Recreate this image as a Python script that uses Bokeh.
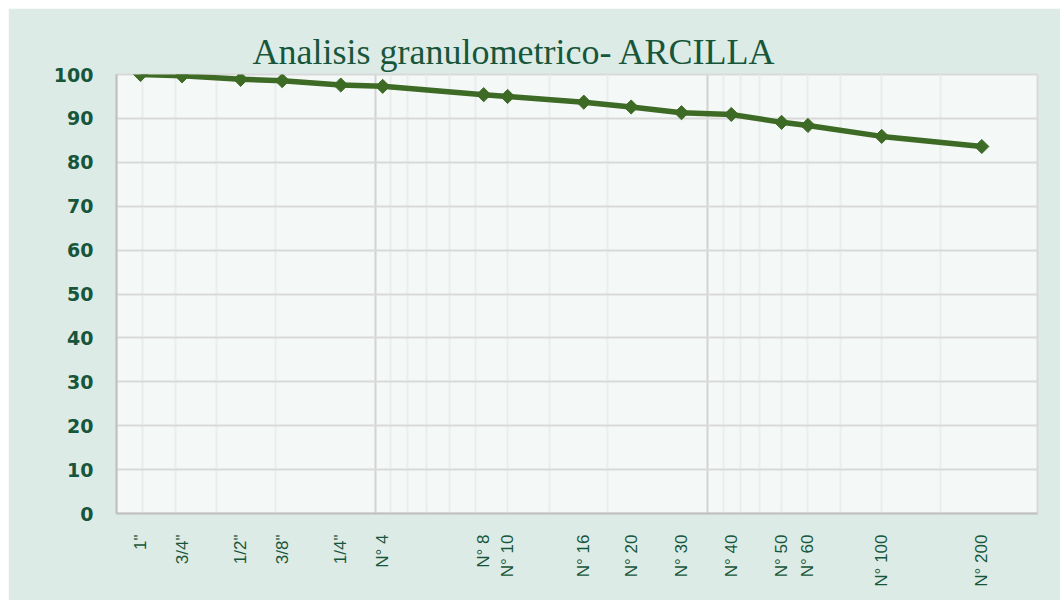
from bokeh.plotting import figure
from bokeh.models import Range1d, FixedTicker, ColumnDataSource
from bokeh.embed import file_html
from bokeh.resources import INLINE
import math

# Data
sieve_labels = ['1"', '3/4"', '1/2"', '3/8"', '1/4"', "N° 4", "N° 8", "N° 10",
                "N° 16", "N° 20", "N° 30", "N° 40", "N° 50", "N° 60", "N° 100", "N° 200"]
sieve_mm = [25.4, 19.05, 12.7, 9.525, 6.35, 4.75, 2.36, 2.0,
            1.18, 0.85, 0.6, 0.425, 0.3, 0.25, 0.15, 0.075]
passing = [100.0, 99.7, 98.9, 98.6, 97.6, 97.3, 95.4, 95.0,
           93.7, 92.6, 91.3, 90.9, 89.1, 88.4, 85.9, 83.6]
y_ticks = [0, 10, 20, 30, 40, 50, 60, 70, 80, 90, 100]

GREEN = "#3d6a24"
TEXT = "#17563a"
OUTER = "#ddebe6"
INNER = "#f4f8f7"

p = figure(width=1052, height=592, output_backend="svg", toolbar_location=None,
           x_axis_type="log", x_range=Range1d(30, 0.051), y_range=Range1d(0, 100),
           min_border_left=108, min_border_right=23, min_border_top=66, min_border_bottom=87,
           title="Analisis granulometrico- ARCILLA")
p.margin = (8, 0, 0, 8)
p.background_fill_color = INNER
p.border_fill_color = OUTER
p.outline_line_color = "#d9d9d9"
p.outline_line_width = 2

p.title.align = "left"
p.title.offset = 136
p.title.text_font = "Liberation Serif"
p.title.text_font_size = "36px"
p.title.text_font_style = "normal"
p.title.text_color = TEXT
p.title.standoff = 5

src = ColumnDataSource(dict(x=sieve_mm, y=passing))
p.line("x", "y", source=src, line_color=GREEN, line_width=5.5)
p.scatter("x", "y", source=src, marker="square", size=10, angle=math.pi / 4,
          fill_color=GREEN, line_color=GREEN)

# x axis
p.xaxis.ticker = FixedTicker(ticks=sieve_mm)
p.xaxis.major_label_overrides = {v: l for v, l in zip(sieve_mm, sieve_labels)}
p.xaxis.major_label_orientation = math.pi / 2
p.xaxis.major_label_text_font = "Liberation Sans"
p.xaxis.major_label_text_font_size = "17px"
p.xaxis.major_label_text_color = TEXT
p.xaxis.major_label_standoff = 15
p.xaxis.major_tick_line_color = None
p.xaxis.minor_tick_line_color = None
p.xaxis.axis_line_color = "#bfbfbf"
p.xaxis.axis_line_width = 2

# y axis
p.yaxis.ticker = FixedTicker(ticks=y_ticks)
p.yaxis.major_label_text_font = "DejaVu Sans"
p.yaxis.major_label_text_font_style = "bold"
p.yaxis.major_label_text_font_size = "19px"
p.yaxis.major_label_text_color = TEXT
p.yaxis.major_label_standoff = 17
p.yaxis.major_tick_line_color = None
p.yaxis.minor_tick_line_color = None
p.yaxis.axis_line_color = "#bfbfbf"
p.yaxis.axis_line_width = 2

# grids
minor = []
for base in (0.05, 0.5, 5):
    for k in range(2, 10):
        v = round(base * k, 4)
        if v <= 30:
            minor.append(v)
p.xgrid.ticker = FixedTicker(ticks=[0.5, 5], minor_ticks=minor)
p.xgrid.grid_line_color = "#d3d3d3"
p.xgrid.grid_line_width = 2
p.xgrid.minor_grid_line_color = "#ebeded"
p.xgrid.minor_grid_line_width = 2
p.ygrid.grid_line_color = "#d9d9d9"
p.ygrid.grid_line_width = 2

open("out.html", "w").write(file_html(p, INLINE))
